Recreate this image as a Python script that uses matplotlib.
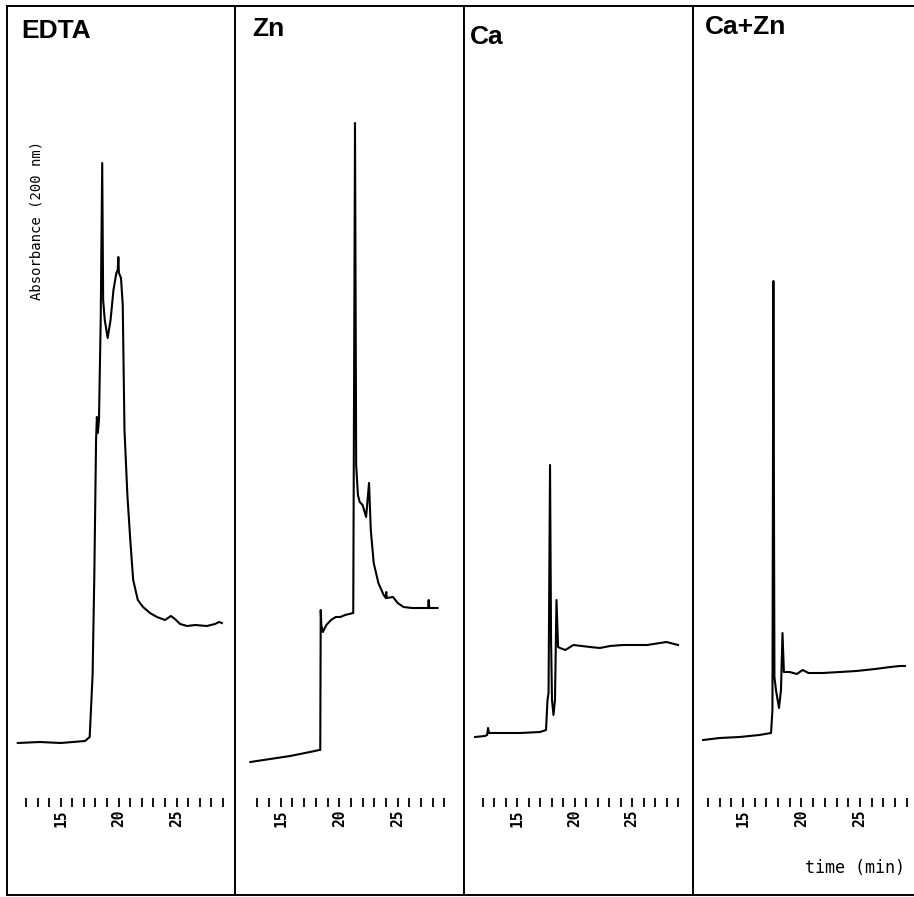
import matplotlib
matplotlib.use("Agg")
import matplotlib.pyplot as plt
from matplotlib.ticker import FixedLocator

# retention time (min) and absorbance at 200 nm (arbitrary units) for each run
edta_t = [11.3, 13.2, 15.0, 17.1, 17.5, 17.75, 17.9, 18.05, 18.12, 18.2, 18.3, 18.45, 18.58,
          18.66, 18.8, 19.05, 19.3, 19.55, 19.8, 19.92, 19.97, 20.02, 20.2, 20.35, 20.5, 20.75,
          21.0, 21.25, 21.65, 22.1, 22.7, 23.3, 24.0, 24.5, 24.85, 25.3, 25.9, 26.6, 27.6, 28.3,
          28.65, 28.9]
edta_a = [0.152, 0.153, 0.152, 0.154, 0.158, 0.22, 0.32, 0.455, 0.478, 0.462, 0.475, 0.575, 0.732,
          0.595, 0.575, 0.557, 0.575, 0.605, 0.622, 0.625, 0.638, 0.622, 0.617, 0.59, 0.465, 0.40,
          0.355, 0.315, 0.295, 0.288, 0.282, 0.278, 0.275, 0.279, 0.276, 0.271, 0.269, 0.270, 0.269,
          0.271, 0.273, 0.272]

zn_t = [12.4, 14.1, 15.8, 17.5, 18.3, 18.38, 18.42, 18.47, 18.6, 18.9, 19.3, 19.7, 20.1, 20.5,
        21.2, 21.3, 21.35, 21.45, 21.6, 21.75, 22.0, 22.3, 22.55, 22.7, 22.95, 23.35, 23.8, 24.0,
        24.02, 24.05, 24.6, 25.0, 25.5, 26.2, 27.0, 27.6, 27.65, 27.7, 28.4]
zn_a = [0.133, 0.136, 0.139, 0.143, 0.145, 0.145, 0.285, 0.27, 0.263, 0.27, 0.275, 0.278, 0.278,
        0.28, 0.282, 0.60, 0.772, 0.43, 0.40, 0.393, 0.39, 0.378, 0.412, 0.365, 0.332, 0.312, 0.30,
        0.297, 0.303, 0.297, 0.298, 0.292, 0.288, 0.287, 0.287, 0.287, 0.295, 0.287, 0.287]

ca_t = [11.35, 12.2, 12.4, 12.48, 12.57, 13.5, 15.3, 17.0, 17.52, 17.65, 17.74, 17.87, 17.96,
        18.04, 18.17, 18.3, 18.43, 18.57, 18.74, 19.2, 19.9, 21.35, 22.2, 23.1, 24.2, 26.3, 28.0,
        29.0]
ca_a = [0.158, 0.159, 0.160, 0.167, 0.162, 0.162, 0.162, 0.163, 0.165, 0.195, 0.202, 0.43, 0.255,
        0.195, 0.18, 0.195, 0.295, 0.248, 0.247, 0.245, 0.25, 0.248, 0.247, 0.249, 0.25, 0.25,
        0.253, 0.25]

cazn_t = [11.6, 13.0, 14.7, 16.4, 17.4, 17.52, 17.6, 17.69, 17.82, 18.08, 18.25, 18.38, 18.5,
          19.0, 19.6, 20.1, 20.6, 21.8, 23.3, 24.7, 26.3, 27.6, 28.4, 28.85]
cazn_a = [0.155, 0.157, 0.158, 0.160, 0.162, 0.185, 0.614, 0.218, 0.205, 0.187, 0.205, 0.262,
          0.223, 0.223, 0.221, 0.225, 0.222, 0.222, 0.223, 0.224, 0.226, 0.228, 0.229, 0.229]

names = ["EDTA", "Zn", "Ca", "Ca+Zn"]
series = [(edta_t, edta_a), (zn_t, zn_a), (ca_t, ca_a), (cazn_t, cazn_a)]
xlims = [(10.37, 30.03), (11.09, 30.67), (10.39, 30.30), (10.73, 29.62)]
tick_start = [12, 13, 12, 12]

W, H = 914, 897
panels_px = [(7, 235), (235, 464), (464, 693), (693, 914)]
top_px, bot_px = 6, 895
title_pos = [(21, 38), (252, 36), (470, 44), (705, 34)]

fig = plt.figure(figsize=(W / 100, H / 100), dpi=100)

for i, (name, (t, a)) in enumerate(zip(names, series)):
    x0, x1 = panels_px[i]
    ax = fig.add_axes([x0 / W, (H - bot_px) / H, (x1 - x0) / W, (bot_px - top_px) / H])
    ax.plot(t, a, color="black", lw=1.5)
    ax.set_xlim(*xlims[i])
    ax.set_ylim(0, 0.889)
    ax.set_xticks([])
    ax.set_yticks([])
    for s in ax.spines.values():
        s.set_linewidth(1.4)
    if i == 3:
        ax.spines["right"].set_visible(False)

    # time scale drawn inside the panel
    sec = ax.secondary_xaxis((bot_px - 798) / (bot_px - top_px))
    for s in sec.spines.values():
        s.set_visible(False)
    sec.set_xticks([15, 20, 25])
    sec.xaxis.set_minor_locator(FixedLocator([m for m in range(tick_start[i], 30) if m % 5]))
    sec.tick_params(which="both", direction="out", length=6.5, width=1.3, pad=1.5)
    sec.set_xticklabels(["15", "20", "25"], rotation=90, family="DejaVu Sans Mono",
                        fontsize=10.5, fontweight="bold")

    tx, ty = title_pos[i]
    fig.text(tx / W, 1 - ty / H, name, family="Liberation Sans", fontweight="bold",
             fontsize=19, va="baseline", ha="left")

fig.text(37 / W, 1 - 220 / H, "Absorbance (200 nm)", rotation=90, family="DejaVu Sans Mono",
         fontsize=10, ha="center", va="center")
fig.text(805 / W, 1 - 868 / H, "time (min)", family="DejaVu Sans Mono", fontsize=12,
         ha="left", va="center")

fig.savefig("out.png", dpi=100)
